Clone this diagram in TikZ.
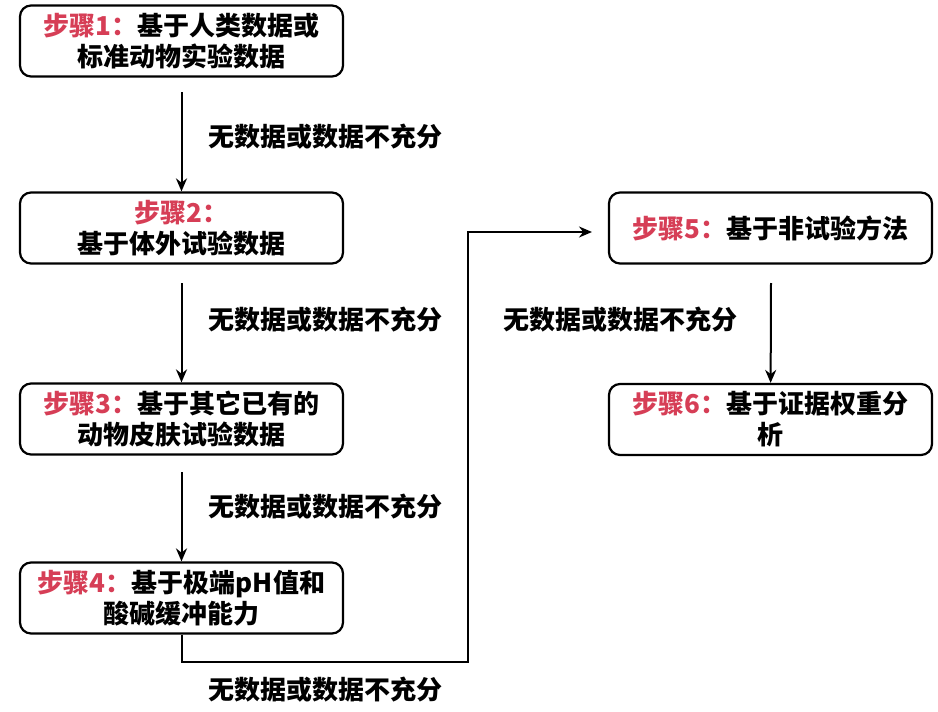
\documentclass[tikz,border=0pt]{standalone}
\usepackage{fontspec}
\newfontfamily\cjk{Noto Sans CJK SC}
\usetikzlibrary{arrows.meta}

\definecolor{stepred}{RGB}{214,62,86}
\tikzstyle{stepbox} = [draw, line width=2.2pt, rounded corners=11pt, minimum width=323pt, minimum height=71pt, align=center, inner sep=0pt]
\tikzstyle{flow} = [line width=2pt, -{Stealth[length=13pt,width=11pt]}]
\tikzstyle{note} = [inner sep=0pt]
\newcommand{\stepno}[1]{\textcolor{stepred}{步骤#1：}}

\begin{document}
\begin{tikzpicture}[x=1pt,y=-1pt,font=\cjk\bfseries\fontsize{26}{31}\selectfont]
	\useasboundingbox (0,0) rectangle (938,712);

	\node[stepbox] (s1) at (181.5,41) {\stepno{1}基于人类数据或\\标准动物实验数据};
	\node[stepbox] (s2) at (181.5,228) {\stepno{2}\\基于体外试验数据};
	\node[stepbox] (s3) at (181.5,419) {\stepno{3}基于其它已有的\\动物皮肤试验数据};
	\node[stepbox] (s4) at (181.5,598) {\stepno{4}基于极端pH值和\\酸碱缓冲能力};
	\node[stepbox] (s5) at (770.5,228) {\stepno{5}基于非试验方法};
	\node[stepbox] (s6) at (770.5,419.5) {\stepno{6}基于证据权重分\\析};

	\coordinate (a1) at (181.5,92);
	\coordinate (a2) at (181.5,283);
	\coordinate (a3) at (181.5,472);
	\coordinate (a5) at (771,283);
	\coordinate (c1) at (181.5,662);
	\coordinate (c2) at (468,662);
	\coordinate (c3) at (468,232);
	\coordinate (c4) at (592,232);

	\draw[flow] (a1) -- (s2);
	\draw[flow] (a2) -- (s3);
	\draw[flow] (a3) -- (s4);
	\draw[flow] (a5) -- (s6);
	\draw[flow] (s4.south) -- (c1) -- (c2) -- (c3) -- (c4);

	\node[note, anchor=west] (n1) at (208,137) {无数据或数据不充分};
	\node[note, anchor=west] (n2) at (208,320) {无数据或数据不充分};
	\node[note, anchor=west] (n3) at (208,507) {无数据或数据不充分};
	\node[note, anchor=west] (n4) at (208,690) {无数据或数据不充分};
	\node[note, anchor=west] (n5) at (503,320) {无数据或数据不充分};
\end{tikzpicture}
\end{document}
